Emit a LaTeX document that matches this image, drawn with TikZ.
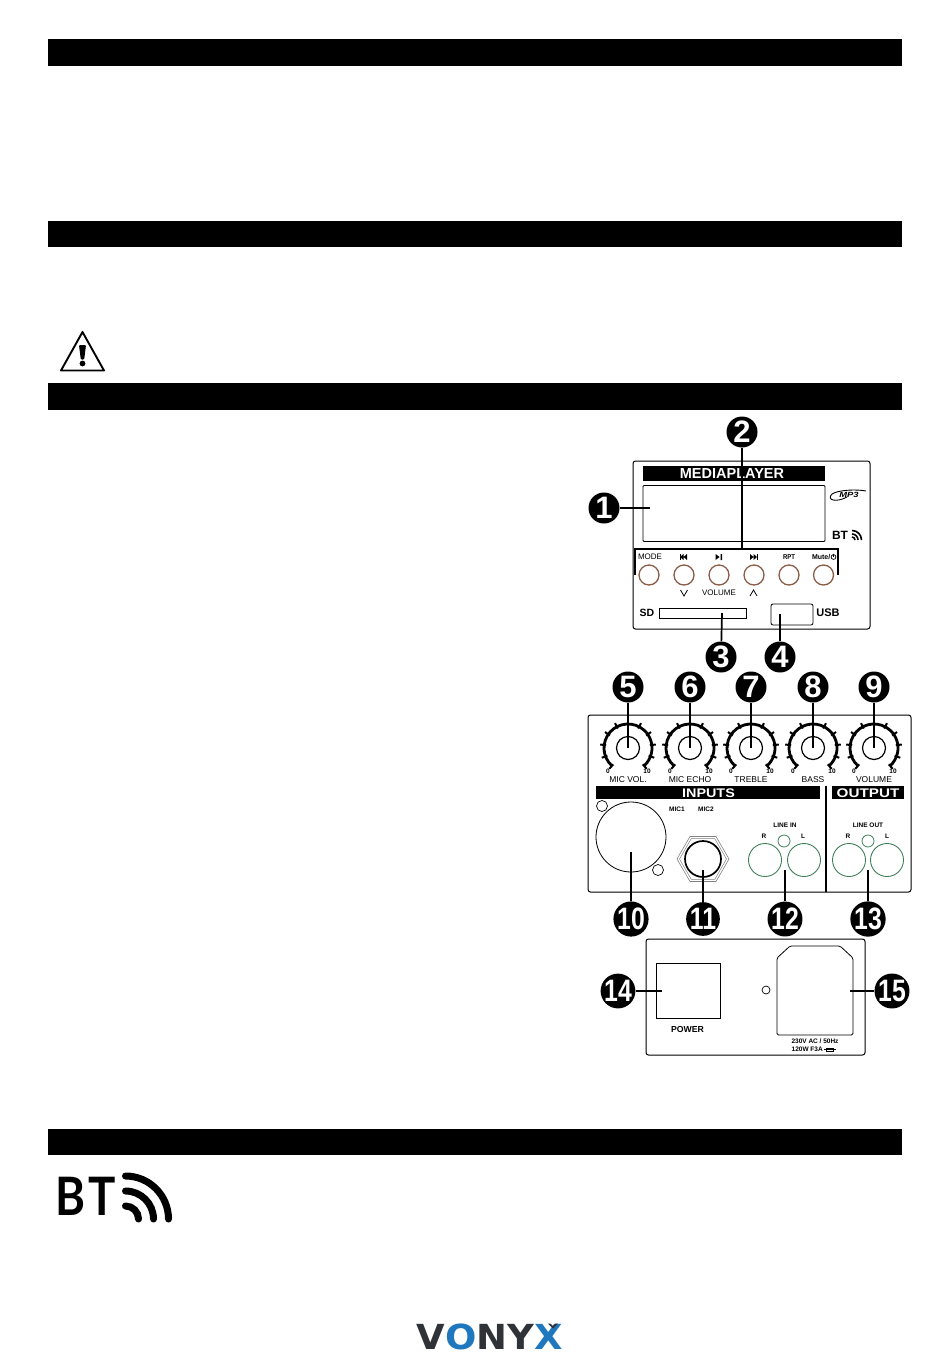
\documentclass[tikz,border=0pt]{standalone}
\usepackage{fontspec}
\usepackage{graphicx}
\setmainfont{Liberation Sans}
\newfontfamily\bigbt{Lato}
\newfontfamily\logofont{DejaVu Sans}
\usetikzlibrary{shapes.geometric}
\definecolor{ringbrown}{HTML}{8A5C48}
\definecolor{ringgreen}{HTML}{3C7F58}
\definecolor{logodark}{HTML}{2F3338}
\definecolor{logoblue}{HTML}{1F78BE}
\newcommand{\fsz}[1]{\fontsize{#1}{#1}\selectfont}
\tikzset{
	headbar/.style={fill=black,draw=none},
	panel/.style={draw=black,line width=1,rounded corners=2.5},
	lead/.style={line width=1.7,black},
	badge/.style={circle,fill=black,minimum size=31,inner sep=0,text=white,font=\fsz{31}\bfseries},
	tinylabel/.style={inner sep=0,font=\fsz{7}\bfseries},
	knoblabel/.style={inner sep=0,font=\fsz{8.5}},
	scalelabel/.style={inner sep=0,font=\fsz{6.5}\bfseries},
	microlabel/.style={inner sep=0,font=\fsz{6.5}\bfseries},
	barlabel/.style={inner sep=0,text=white,font=\fsz{12.5}\bfseries},
	pushbutton/.style={circle,draw=ringbrown,line width=1.3,minimum size=20,inner sep=0},
	rca/.style={circle,draw=ringgreen,line width=.9,minimum size=33,inner sep=0},
	ledring/.style={circle,draw=ringgreen,line width=.8,minimum size=12,inner sep=0},
	knobcap/.style={circle,draw=black,line width=1.2,minimum size=23,inner sep=0},
}
\begin{document}
\begin{tikzpicture}[x=1pt,y=-1pt]
		\useasboundingbox (0,0) rectangle (950,1359);
		
		\foreach \ya/\yb in {39.5/66,221/247,383/410,1129/1155}{
			\fill[headbar] (48,\ya) rectangle (902,\yb);
		}
		
		% warning sign
		\draw[line width=1.9,line join=round] (82.5,332) -- (104,370.5) -- (61,370.5) -- cycle;
		\fill[rounded corners=1] (79,345) -- (86,345) -- (84.2,359.5) -- (80.8,359.5) -- cycle;
		\fill (82.5,363.5) circle (2.9);
		
		% mediaplayer panel
		\draw[panel] (633,461) rectangle (870,629);
		\fill (643,466) rectangle (825,481);
		\node[barlabel,font=\fsz{14.5}\bfseries] (mediatitle) at (732,474) {MEDIAPLAYER};
		\draw[line width=.9,rounded corners=1] (643,485.5) rectangle (825,541.5);
		\draw[lead] (635,575) -- (635,549) -- (838,549) -- (838,575);
		\foreach \n/\cx in {1/649,2/684,3/719,4/754,5/789,6/823.5}{
			\node[pushbutton] (btn\n) at (\cx,575) {};
		}
		\node[inner sep=0,font=\fsz{8}] (modelabel) at (650,557) {MODE};
		\node[tinylabel] (rptlabel) at (789,557) {\scalebox{.85}[1]{RPT}};
		\node[tinylabel,anchor=east] (mutelabel) at (830.5,557) {Mute/};
		\draw[line width=.7] (833.5,557) circle (2.4);
		\draw[line width=.7] (833.5,553.5) -- (833.5,557);
		% transport symbols
		\fill (680,557) -- (683.5,554) -- (683.5,560) -- cycle (683.5,557) -- (687,554) -- (687,560) -- cycle;
		\fill (679.5,554) rectangle (680.5,560);
		\fill (715.5,554) -- (715.5,560) -- (719.5,557) -- cycle (720.5,554) rectangle (722,560);
		\fill (750,554) -- (750,560) -- (753.5,557) -- cycle (753.5,554) -- (753.5,560) -- (757,557) -- cycle;
		\fill (757,554) rectangle (758,560);
		\draw[line width=.8] (680.5,590) -- (684,596) -- (687.5,590);
		\draw[line width=.8] (750,596) -- (753.5,590) -- (757,596);
		\node[inner sep=0,font=\fsz{8}] (volumelabel) at (719,593) {VOLUME};
		\node[inner sep=0,font=\fsz{10.5}\bfseries] (sdlabel) at (647,613) {SD};
		\draw[line width=.8] (659,608) rectangle (746,618);
		\draw[line width=.8,rounded corners=2] (771,604) rectangle (813,625);
		\node[inner sep=0,font=\fsz{11}\bfseries] (usblabel) at (828,613) {USB};
		\node[inner sep=0,font=\fsz{12}\bfseries] (btsmall) at (840,535) {BT};
		\foreach \r in {3,6,9.5}{
			\draw[line width=1.6] (852,540) ++(270:\r) arc[start angle=270,end angle=360,radius=\r];
		}
		\draw[line width=.9] (847,497) .. controls (836,503) and (826,500) .. (832,494) .. controls (838,490) and (856,489) .. (866,491);
		\node[inner sep=0,font=\fsz{7.5}\bfseries\itshape] (mpthree) at (849,495) {\scalebox{1.25}[1]{MP3}};
		
		% knob panel
		\draw[panel] (588,715) rectangle (911,892);
		\foreach \n/\cx/\knobname in {5/628/MIC VOL.,6/690/MIC ECHO,7/751/TREBLE,8/813/BASS,9/874/VOLUME}{
			\node[knobcap] (k\n) at (\cx,748) {};
			\draw[line width=2.8] (\cx,748) ++(132:24) arc[start angle=132,end angle=408,radius=24];
			\foreach \a in {132,159.6,...,409}{
				\draw[line width=2] (\cx,748) ++(\a:22) -- ++(\a:6);
			}
			\node[scalelabel] (zero\n) at (\cx-20,771) {0};
			\node[scalelabel] (ten\n) at (\cx+19,771) {10};
			\node[knoblabel] (name\n) at (\cx,780) {\knobname};
			\node[badge] (b\n) at (\cx,687) {\n};
			\draw[lead] (b\n) -- (k\n.center);
		}
		
		% inputs and output
		\fill (596,786) rectangle (820,798.5);
		\node[barlabel] (inputstitle) at (708.5,792.7) {\scalebox{1.15}[1]{INPUTS}};
		\fill (832,786) rectangle (904,798.5);
		\node[barlabel] (outputtitle) at (868,792.7) {\scalebox{1.22}[1]{OUTPUT}};
		\draw[line width=1.2] (826,786) -- (826,892);
		
		\node[circle,draw,line width=.8,minimum size=70,inner sep=0] (xlr) at (631,837) {};
		\node[circle,draw,line width=.7,minimum size=11,inner sep=0] (xlrtop) at (602,806) {};
		\node[circle,draw,line width=.7,minimum size=11,inner sep=0] (xlrbot) at (658,870) {};
		\node[microlabel] (micone) at (677,809) {MIC1};
		\node[microlabel] (mictwo) at (706,809) {MIC2};
		
		\node[regular polygon,regular polygon sides=6,draw=black!50,line width=.6,minimum size=52,inner sep=0] (jackhexa) at (703,859) {};
		\node[regular polygon,regular polygon sides=6,draw=black!50,line width=.5,minimum size=47,inner sep=0] (jackhexb) at (703,859) {};
		\node[circle,draw,line width=1.7,minimum size=36,inner sep=0] (jack) at (703,859) {};
		
		\node[microlabel] (lineinlabel) at (785,825) {LINE IN};
		\node[microlabel] (inr) at (764,836) {R};
		\node[microlabel] (inl) at (803,836) {L};
		\node[ledring] (inled) at (784,841) {};
		\node[rca] (inrca) at (765,860) {};
		\node[rca] (inlca) at (804,860) {};
		\node[microlabel] (lineoutlabel) at (868,825) {LINE OUT};
		\node[microlabel] (outr) at (848,836) {R};
		\node[microlabel] (outl) at (887,836) {L};
		\node[ledring] (outled) at (868,841) {};
		\node[rca] (outrca) at (849,860) {};
		\node[rca] (outlca) at (887,860) {};
		
		% power panel
		\draw[panel] (646,939) rectangle (865,1055);
		\draw[line width=.8] (656,963) rectangle (720,1018);
		\node[inner sep=0,font=\fsz{8.7}\bfseries] (powerlabel) at (687.5,1029) {POWER};
		\node[circle,draw,line width=.7,minimum size=8,inner sep=0] (screw) at (766,990) {};
		\draw[line width=.8,rounded corners=1.5] (790,946) -- (840,946) -- (853,958) -- (853,1035) -- (777,1035) -- (777,958) -- cycle;
		\node[microlabel] (ratinga) at (815,1041) {230V AC / 50Hz};
		\node[microlabel,anchor=west] (ratingb) at (791.5,1049.5) {120W F3A};
		\draw[line width=.7] (823.5,1049.5) -- (835.5,1049.5);
		\draw[line width=.7] (826,1048) rectangle (833,1051);
		
		% leads
		\coordinate (c1) at (650,508);
		\coordinate (c2) at (742,549);
		\coordinate (c3) at (722,613);
		\coordinate (c4) at (780,614);
		\coordinate (c10) at (631,852);
		\coordinate (c11) at (703,870);
		\coordinate (c12) at (785,870);
		\coordinate (c13) at (868,870);
		\coordinate (c14) at (662,991);
		\coordinate (c15) at (850,991);
		\foreach \n/\cx/\cy in {1/604/508,2/742/432,3/721/657,4/780/657}{
			\node[badge] (b\n) at (\cx,\cy) {\n};
			\draw[lead] (b\n) -- (c\n);
		}
		\foreach \n/\cx/\cy in {10/631/919,11/703/919,12/785/919,13/868/919,14/618/991,15/892/991}{
			\node[badge] (b\n) at (\cx,\cy) {\scalebox{.8}[1]{\n}};
			\draw[lead] (b\n) -- (c\n);
		}
		
		% bluetooth
		\node[inner sep=0,anchor=center] (btbig) at (85.5,1196) {\scalebox{.86}[1]{\bigbt\fsz{53}\bfseries B\kern3pt T}};
		\foreach \r in {13,28,43}{
			\draw[line width=7,line cap=round] (125.5,1219) ++(270:\r) arc[start angle=270,end angle=360,radius=\r];
		}
		
		% logo
		\node[inner sep=0] (vonyx) at (490,1337) {\scalebox{1.07}[1]{\logofont\fsz{34.5}\bfseries\textcolor{logodark}{V}\textcolor{logoblue}{O}\textcolor{logodark}{NY}\textcolor{logoblue}{X}}};
		\fill[logodark] (548,1323.5) -- (550.5,1323.5) -- (553,1326) -- (555.5,1323.5) -- (558,1323.5) -- (553,1328.5) -- cycle;
	\end{tikzpicture}
\end{document}
